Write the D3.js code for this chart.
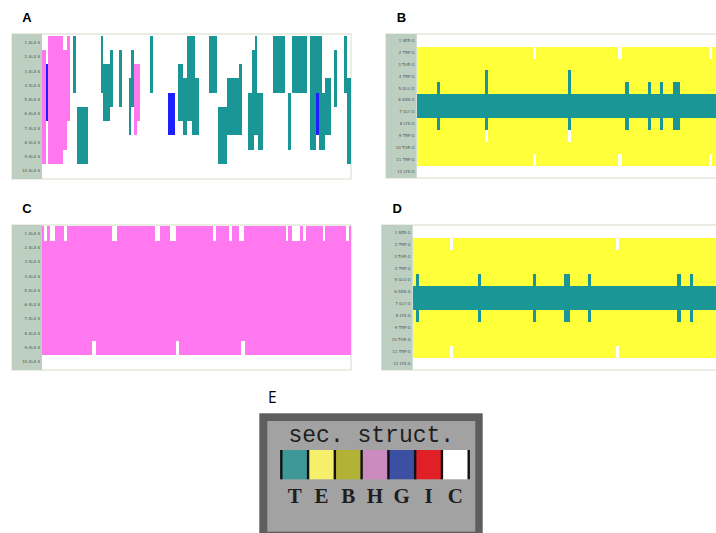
<!DOCTYPE html>
<html>
<head>
<meta charset="utf-8">
<script src="https://cdn.jsdelivr.net/npm/d3@7"></script>
<style>
  body { margin: 0; background: #fff; }
</style>
</head>
<body>
<div id="chart"></div>
<script>
// row categories
const residuesAla = d3.range(1, 11).map(i => i + " ALA S");
const residuesTrp = ["1 SER G", "2 TRP G", "3 THR G", "4 TRP G", "5 GLU G", "6 ASN G",
  "7 GLY G", "8 LYS G", "9 TRP G", "10 THR G", "11 TRP G", "12 LYS G"];

// time axis (frames, percent of trajectory)
const frames = [0, 100];

// secondary structure codes shown in the key
const ssCodes = ["T", "E", "B", "H", "G", "I", "C"];
const legendTitle = "sec. struct.";

// segments: [frame start, frame end, first residue, last residue, code]
const segA = [
  [0, 1.2, 2, 9, "H"], [1.2, 2.0, 3, 6, "G"], [2.0, 6.9, 1, 9, "H"], [6.9, 8.0, 2, 8, "H"],
  [8.0, 9.1, 1, 6, "H"], [10.1, 11.0, 1, 4, "T"], [11.2, 15.0, 6, 9, "T"],
  [19.1, 19.8, 1, 4, "T"], [19.8, 22.0, 3, 6, "T"], [22.0, 22.9, 2, 5, "T"],
  [24.9, 25.9, 2, 5, "T"], [28.1, 28.9, 4, 7, "T"], [28.9, 29.9, 2, 5, "T"],
  [29.9, 30.8, 3, 7, "H"], [30.8, 31.7, 3, 6, "H"], [35.0, 35.8, 1, 4, "T"],
  [40.9, 43.0, 5, 7, "G"], [43.9, 45.7, 3, 6, "T"], [45.7, 46.9, 4, 7, "T"],
  [46.9, 49.6, 1, 4, "T"], [46.9, 48.4, 5, 6, "T"], [48.4, 50.9, 4, 7, "T"],
  [53.9, 56.6, 1, 4, "T"], [56.9, 59.8, 6, 9, "T"], [59.8, 64.6, 4, 7, "T"],
  [63.9, 64.6, 3, 7, "T"], [66.8, 68.6, 5, 8, "T"], [67.9, 68.8, 2, 4, "T"],
  [68.8, 69.7, 1, 4, "T"], [68.6, 69.8, 5, 7, "T"], [69.8, 71.6, 5, 8, "T"],
  [74.7, 78.6, 1, 4, "T"], [79.7, 80.6, 5, 8, "T"], [80.8, 85.7, 1, 4, "T"],
  [86.7, 90.5, 1, 4, "T"], [86.7, 88.7, 5, 8, "T"], [88.7, 89.6, 5, 7, "G"],
  [89.6, 91.7, 5, 8, "T"], [91.7, 93.5, 4, 7, "T"], [94.5, 95.6, 2, 5, "T"],
  [97.7, 98.6, 1, 4, "T"], [98.6, 100, 4, 9, "T"]
];

const segB = [
  [0, 100, 2, 11, "E"], [0, 100, 6, 7, "T"],
  [6.5, 7.5, 5, 8, "T"],
  [22.1, 23.1, 4, 8, "T"], [22.1, 23.1, 9, 9, "C"],
  [37.5, 38.5, 2, 2, "C"], [37.5, 38.5, 11, 11, "C"],
  [49.0, 49.9, 4, 8, "T"], [49.0, 49.9, 9, 9, "C"],
  [65.1, 66.3, 2, 2, "C"], [65.1, 66.3, 11, 11, "C"],
  [67.5, 68.6, 5, 8, "T"], [74.8, 75.8, 5, 8, "T"],
  [78.8, 79.8, 5, 8, "T"], [83.0, 85.2, 5, 8, "T"],
  [94.6, 95.5, 2, 2, "C"], [94.6, 95.5, 11, 11, "C"]
];

const segC = [
  [0, 100, 1, 9, "H"],
  [0.8, 1.6, 1, 1, "C"], [2.6, 4.2, 1, 1, "C"], [7.1, 8.0, 1, 1, "C"],
  [22.5, 24.3, 1, 1, "C"], [36.6, 38.1, 1, 1, "C"], [41.4, 43.3, 1, 1, "C"],
  [55.4, 56.2, 1, 1, "C"], [60.5, 61.4, 1, 1, "C"], [63.7, 65.5, 1, 1, "C"],
  [78.9, 79.6, 1, 1, "C"], [80.8, 83.6, 1, 1, "C"], [84.6, 85.4, 1, 1, "C"],
  [90.8, 91.7, 1, 1, "C"], [98.4, 99.2, 1, 1, "C"],
  [16.3, 17.4, 9, 9, "C"], [43.3, 44.4, 9, 9, "C"], [64.4, 65.7, 9, 9, "C"]
];

const segD = [
  [0, 100, 2, 11, "E"], [0, 100, 6, 7, "T"],
  [1.1, 2.1, 5, 8, "T"],
  [12.1, 13.1, 2, 2, "C"], [12.1, 13.1, 11, 11, "C"],
  [21.0, 22.0, 5, 8, "T"], [38.9, 39.9, 5, 8, "T"],
  [49.0, 50.9, 5, 8, "T"], [56.8, 57.8, 5, 8, "T"],
  [65.8, 66.9, 2, 2, "C"], [65.8, 66.9, 11, 11, "C"],
  [85.6, 86.7, 5, 8, "T"], [89.6, 90.7, 5, 8, "T"]
];

// colours
const panelColor = { T: "#1b9696", E: "#ffff3a", B: "#b3b336", H: "#ff78f0", G: "#1e1eff", I: "#e11f26", C: "#ffffff" };
const keyColor = { T: "#3e9898", E: "#f6ef6b", B: "#b2b236", H: "#cc8bbf", G: "#3b4fa3", I: "#e11f26", C: "#ffffff" };

const svg = d3.select("#chart").append("svg")
  .attr("width", 716)
  .attr("height", 533);

function drawPanel(p) {
  const g = svg.append("g");
  const x = d3.scaleLinear().domain(frames).range([p.plotLeft, p.plotLeft + p.plotWidth]);
  const y = d3.scaleBand().domain(p.residues).range([p.rowTop, p.rowBottom]);
  const row = i => y(p.residues[i - 1]);

  // white frame
  g.append("rect")
    .attr("x", p.left).attr("y", p.top)
    .attr("width", x(frames[1]) - p.left).attr("height", p.bottom - p.top)
    .attr("fill", "#fff").attr("stroke", "#e3e8dc").attr("stroke-width", 1.5);

  // label column
  g.append("rect")
    .attr("x", p.left).attr("y", p.top)
    .attr("width", p.plotLeft - p.left).attr("height", p.bottom - p.top)
    .attr("fill", "#bccfc0");

  g.append("g")
    .attr("shape-rendering", "crispEdges")
    .selectAll("rect")
    .data(p.segments)
    .enter()
    .append("rect")
      .attr("x", d => x(d[0]))
      .attr("y", d => row(d[2]))
      .attr("width", d => x(d[1]) - x(d[0]))
      .attr("height", d => row(d[3]) + y.bandwidth() - row(d[2]))
      .attr("fill", d => panelColor[d[4]]);

  // residue labels
  g.append("g")
    .attr("transform", "translate(" + (p.plotLeft - 2) + ",0)")
    .call(d3.axisLeft(y).tickSize(0).tickPadding(0))
    .call(a => a.select(".domain").remove())
    .selectAll("text")
      .attr("font-size", 4)
      .attr("font-family", "DejaVu Sans")
      .attr("fill", "#555");

  svg.append("text")
    .attr("x", (p.left + p.plotLeft) / 2)
    .attr("y", p.top - 12.5)
    .attr("text-anchor", "middle")
    .attr("font-family", "Liberation Sans, Arial, sans-serif")
    .attr("font-weight", "bold")
    .attr("font-size", 13)
    .text(p.name);
}

drawPanel({ name: "A", residues: residuesAla, segments: segA, left: 12, plotLeft: 42, plotWidth: 309,
  top: 34, bottom: 179, rowTop: 35.6, rowBottom: 178.2 });
drawPanel({ name: "B", residues: residuesTrp, segments: segB, left: 386, plotLeft: 416.7, plotWidth: 309,
  top: 34, bottom: 178, rowTop: 34.7, rowBottom: 177.5 });
drawPanel({ name: "C", residues: residuesAla, segments: segC, left: 12, plotLeft: 42, plotWidth: 309,
  top: 225, bottom: 370, rowTop: 226.2, rowBottom: 369.2 });
drawPanel({ name: "D", residues: residuesTrp, segments: segD, left: 381.7, plotLeft: 412.7, plotWidth: 309,
  top: 225, bottom: 370, rowTop: 226.4, rowBottom: 369.8 });

// key (panel E)
svg.append("text")
  .attr("x", 268).attr("y", 403)
  .attr("font-family", "Open Sans, sans-serif")
  .attr("font-size", 15.5)
  .text("E");

const key = svg.append("g");
key.append("rect").attr("x", 259.3).attr("y", 413.3).attr("width", 223.4).attr("height", 130).attr("fill", "#5e5e5e");
key.append("rect").attr("x", 267.3).attr("y", 421).attr("width", 208).attr("height", 110.7).attr("fill", "#a2a2a2");

key.append("text")
  .attr("x", 371.3).attr("y", 442)
  .attr("text-anchor", "middle")
  .attr("font-family", "Liberation Mono, monospace")
  .attr("font-size", 23)
  .attr("fill", "#1e1e1e")
  .text(legendTitle);

const kx = d3.scaleBand().domain(ssCodes).range([281.3, 468.7]);

key.selectAll(".sw")
  .data(ssCodes)
  .enter()
  .append("rect")
    .attr("class", "sw")
    .attr("x", d => kx(d))
    .attr("y", 450)
    .attr("width", kx.bandwidth())
    .attr("height", 29.3)
    .attr("fill", d => keyColor[d]);

key.selectAll(".sep")
  .data(ssCodes.concat([null]))
  .enter()
  .append("rect")
    .attr("class", "sep")
    .attr("x", (d, i) => kx.range()[0] + i * kx.bandwidth() - 1.2)
    .attr("y", 450)
    .attr("width", 2.4)
    .attr("height", 29.3)
    .attr("fill", "#111");

key.selectAll(".lab")
  .data(ssCodes)
  .enter()
  .append("text")
    .attr("class", "lab")
    .attr("x", d => kx(d) + kx.bandwidth() / 2)
    .attr("y", 503)
    .attr("text-anchor", "middle")
    .attr("font-family", "Liberation Serif, serif")
    .attr("font-weight", "bold")
    .attr("font-size", 21)
    .attr("fill", "#1e1e1e")
    .text(d => d);
</script>
</body>
</html>
